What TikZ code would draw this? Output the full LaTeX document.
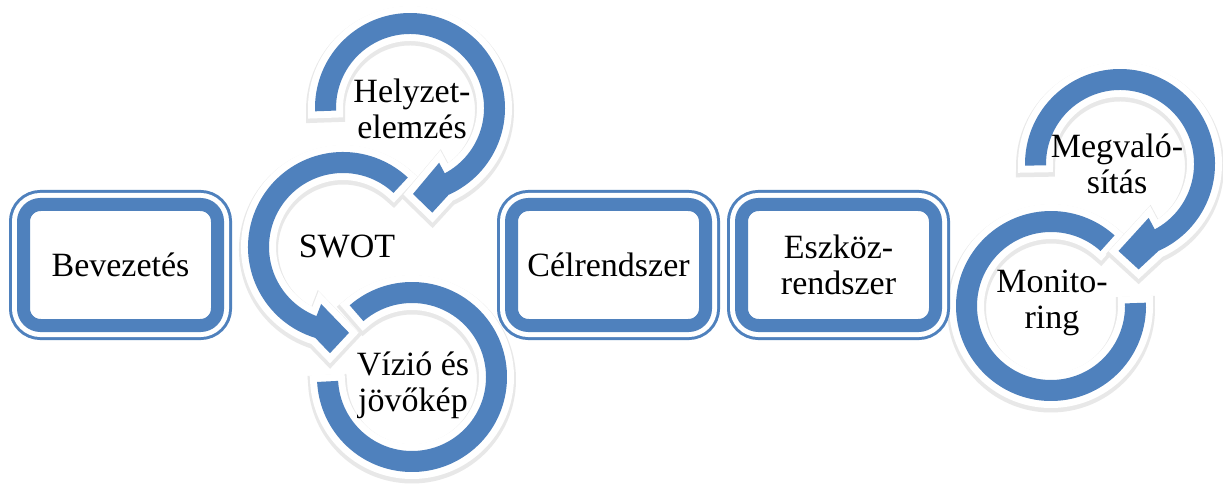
\documentclass[tikz,border=0pt]{standalone}
\usepackage{fontspec}
\setmainfont{Liberation Serif}
\definecolor{accent}{RGB}{79,129,189}
\begin{document}
\begin{tikzpicture}[x=1pt,y=1pt,
  ring/.style={fill=accent, line join=round,
    preaction={draw=black!9, line width=18pt, transform canvas={yshift=-2.5pt}},
    preaction={draw=white, line width=14pt}},
  lbl/.style={font=\fontsize{34}{36}\selectfont, align=center, inner sep=0pt},
  box/.style={draw=accent, fill=white, line width=13pt, rounded corners=17pt,
    minimum width=194pt, minimum height=121pt, inner sep=0pt, align=center,
    font=\fontsize{34}{36}\selectfont,
    preaction={draw=accent, line width=29pt},
    preaction={draw=white, line width=23pt}}]
\useasboundingbox (0,0) rectangle (1223,488);
\fill[white] (0,0) rectangle (1223,488);

% left cycle: Vizio, SWOT, Helyzet
\begin{scope}[shift={(412,111)}]
  \path[ring] (131:95) arc[start angle=131, end angle=-177, radius=95]
    -- (-177:74) arc[start angle=-177, end angle=131, radius=74] -- cycle;
\end{scope}
\begin{scope}[shift={(343,241)}]
  \path[ring] (47:74) arc[start angle=47, end angle=249, radius=74]
    -- (249:61) -- (274:86) -- (263:107) -- (253:95)
    arc[start angle=253, end angle=47, radius=95] -- cycle;
\end{scope}
\begin{scope}[shift={(410,380)}]
  \path[ring] (182:95) arc[start angle=182, end angle=-66, radius=95]
    -- (-78:107) -- (-88:86) -- (-62:62) -- (-62:74)
    arc[start angle=-62, end angle=182, radius=74] -- cycle;
\end{scope}

% right cycle: Monitoring, Megvalositas
\begin{scope}[shift={(1051,182)}]
  \path[ring] (2:95) arc[start angle=2, end angle=-312, radius=95]
    -- (-312:74) arc[start angle=-312, end angle=2, radius=74] -- cycle;
\end{scope}
\begin{scope}[shift={(1120,324)}]
  \path[ring] (181:95) arc[start angle=181, end angle=-66, radius=95]
    -- (-80:107) -- (-91:87) -- (-62:61) -- (-62:74)
    arc[start angle=-62, end angle=181, radius=74] -- cycle;
\end{scope}

% boxes
\node[box] (bev) at (120.5,223) {Bevezetés};
\node[box] (cel) at (608.5,223) {Célrendszer};
\node[box] (esz) at (838.5,223) {Eszköz-\\rendszer};

% ring labels
\node[lbl] (hely) at (412,379) {Helyzet-\\elemzés};
\node[lbl] (swot) at (347,241) {SWOT};
\node[lbl] (viz) at (413,103) {Vízió és\\jövőkép};
\node[lbl] (megv) at (1117,324) {Megvaló-\\sítás};
\node[lbl] (mon) at (1052,185) {Monito-\\ring};
\end{tikzpicture}
\end{document}
